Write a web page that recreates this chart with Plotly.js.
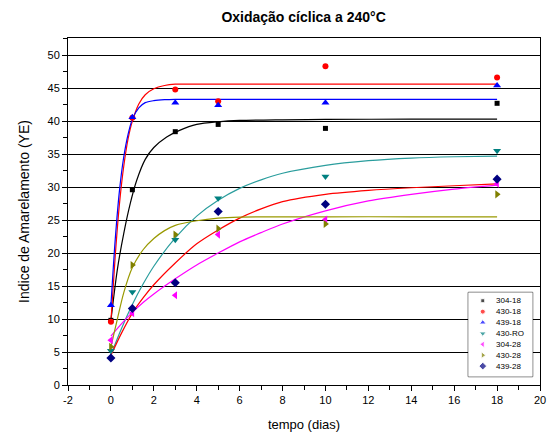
<!DOCTYPE html>
<html>
<head>
<meta charset="utf-8">
<script src="https://cdn.plot.ly/plotly-3.0.1.min.js"></script>
<style>html,body{margin:0;padding:0;background:#fff}#chart{width:547px;height:441px}</style>
</head>
<body>
<div id="chart"></div>
<script>
// measured points
var days = [0, 1, 3, 5, 10, 18];
var s304_18 = [9.8, 29.6, 38.4, 39.5, 38.9, 42.7];
var s430_18 = [9.6, 40.5, 44.8, 43.0, 48.3, 46.6];
var s439_18 = [12.1, 40.6, 42.8, 42.4, 42.8, 45.4];
var s430_RO = [5.2, 14.1, 22.0, 28.3, 31.6, 35.5];
var s304_28 = [6.8, 10.9, 13.6, 22.8, 25.1, 30.5];
var s430_28 = [5.8, 18.2, 22.8, 23.7, 24.4, 28.9];
var s439_28 = [4.1, 11.6, 15.5, 26.3, 27.4, 31.2];
var names = ["304-18", "430-18", "439-18", "430-RO", "304-28", "430-28", "439-28"];

// x tick labels
var xTickVals = [-2, 0, 2, 4, 6, 8, 10, 12, 14, 16, 18, 20];
var xTickText = ["-2", "0", "2", "4", "6", "8", "10", "12", "14", "16", "18", "20"];

// fitted curves
var fitX_fast = [0, 0.2, 0.4, 0.6, 0.8, 1.0, 1.3, 1.6, 2.0, 2.5, 3, 4, 6, 10, 14, 18];
var fit430_18 = [9.6, 19.5, 27.5, 33.2, 37.3, 40.0, 42.6, 44.0, 44.9, 45.4, 45.6, 45.6, 45.6, 45.6, 45.6, 45.6];
var fit439_18 = [12.1, 22.0, 29.5, 34.6, 38.0, 40.3, 42.0, 42.8, 43.1, 43.25, 43.3, 43.3, 43.3, 43.3, 43.3, 43.3];
var fitX_304 = [0, 0.3, 0.6, 0.9, 1.2, 1.6, 2.0, 2.6, 3.2, 4.0, 5, 6, 8, 10, 14, 18];
var fit304_18 = [9.8, 17.5, 23.0, 27.5, 31.0, 34.2, 36.0, 37.6, 38.6, 39.5, 39.9, 40.1, 40.2, 40.25, 40.3, 40.3];
var fitX_slow = [0, 0.5, 1, 1.5, 2, 3, 4, 5, 6, 7, 8, 10, 12, 14, 16, 18];
var fit430_RO = [4.6, 8.6, 12.2, 15.3, 18.0, 22.3, 25.6, 28.0, 29.8, 31.1, 32.1, 33.3, 34.0, 34.4, 34.6, 34.7];
var fit439_28 = [4.5, 7.9, 10.9, 13.2, 15.2, 18.5, 21.4, 23.5, 25.3, 26.7, 27.8, 28.9, 29.5, 29.9, 30.2, 30.5];
var fit304_28 = [7.4, 9.3, 11.0, 12.5, 13.8, 16.1, 18.2, 20.0, 21.7, 23.1, 24.4, 26.4, 27.9, 28.9, 29.7, 30.3];
var fitX_430_28 = [0, 0.3, 0.6, 1.0, 1.5, 2.0, 2.5, 3, 4, 5, 6, 10, 14, 18];
var fit430_28 = [5.8, 10.0, 14.0, 17.8, 20.5, 22.2, 23.4, 24.2, 24.9, 25.3, 25.45, 25.5, 25.5, 25.5];

var colors = ["#000000", "#ff0000", "#0000ff", "#008080", "#ff00ff", "#808000", "#000080"];
var symbols = ["square", "circle", "triangle-up", "triangle-down", "triangle-left", "triangle-right", "diamond"];
var sizes = [5, 6, 7, 7, 7, 7, 7];
var series = [s304_18, s430_18, s439_18, s430_RO, s304_28, s430_28, s439_28];

var traces = [];
function fit(x, y, c) {
  traces.push({x: x, y: y, mode: "lines", line: {color: c, width: 1.2, shape: "spline", smoothing: 0.8}, showlegend: false, hoverinfo: "skip"});
}
fit(fitX_304, fit304_18, "#000000");
fit(fitX_fast, fit430_18, "#ff0000");
fit(fitX_fast, fit439_18, "#0000ff");
fit(fitX_slow, fit430_RO, "#2a9d9d");
fit(fitX_slow, fit439_28, "#ff0000");
fit(fitX_slow, fit304_28, "#ff00ff");
fit(fitX_430_28, fit430_28, "#999900");

for (var i = 0; i < series.length; i++) {
  traces.push({x: days, y: series[i], name: names[i], mode: "markers", showlegend: false,
    marker: {color: colors[i], symbol: symbols[i], size: sizes[i]}});
}

// compact legend drawn on its own small axes
var legIdx = names.map(function (n, k) { return k; });
traces.push({x: names.map(function () { return 14.5; }), y: legIdx, xaxis: "x2", yaxis: "y2",
  mode: "markers", showlegend: false, hoverinfo: "skip",
  marker: {color: colors, symbol: symbols, size: [4, 5, 6, 6, 6, 6, 6]}});

var annotations = names.map(function (n, k) {
  return {xref: "x2", yref: "y2", x: 26, y: k, text: n, showarrow: false, xanchor: "left", yanchor: "middle",
    font: {size: 8, family: "Liberation Sans Narrow, Liberation Sans, Arial, sans-serif"}};
});

var layout = {
  width: 547, height: 441,
  margin: {l: 68, r: 7, t: 38, b: 56},
  paper_bgcolor: "#fff", plot_bgcolor: "#fff",
  font: {family: "Liberation Sans, Arial, sans-serif", size: 11, color: "#000"},
  title: {text: "Oxidação cíclica a 240°C", font: {size: 14, family: "Liberation Sans, Arial, sans-serif", weight: "bold"}, x: 0.555, xanchor: "center", y: 0.962, yanchor: "middle"},
  xaxis: {range: [-2, 20], tickvals: xTickVals, ticktext: xTickText, ticks: "outside", ticklen: 5, tickcolor: "#000",
    minor: {dtick: 1, tick0: 0, ticks: "outside", ticklen: 4, tickcolor: "#000"},
    showgrid: false, zeroline: false, showline: true, linecolor: "#000", linewidth: 1, mirror: true,
    title: {text: "tempo (dias)", font: {size: 13}, standoff: 14}},
  yaxis: {range: [0, 52.6], dtick: 5, tick0: 0, ticks: "outside", ticklen: 5, tickcolor: "#000",
    minor: {dtick: 2.5, ticks: "outside", ticklen: 4, tickcolor: "#000"},
    showgrid: true, gridcolor: "#000", gridwidth: 1, zeroline: false, showline: true, linecolor: "#000", linewidth: 1, mirror: true,
    title: {text: "Indice de Amarelamento (YE)", font: {size: 14}, standoff: 14}},
  xaxis2: {domain: [0.848, 0.9845], range: [0, 64.4], anchor: "y2", visible: false, fixedrange: true},
  yaxis2: {domain: [0.024, 0.267], range: [6.97, -0.77], anchor: "x2", visible: false, fixedrange: true},
  shapes: [{type: "rect", xref: "paper", yref: "paper", x0: 0.848, x1: 0.9845, y0: 0.024, y1: 0.267,
    fillcolor: "#fff", line: {color: "#000", width: 1}, layer: "between"}],
  annotations: annotations,
  showlegend: false
};
Plotly.newPlot("chart", traces, layout, {staticPlot: true});
</script>
</body>
</html>
